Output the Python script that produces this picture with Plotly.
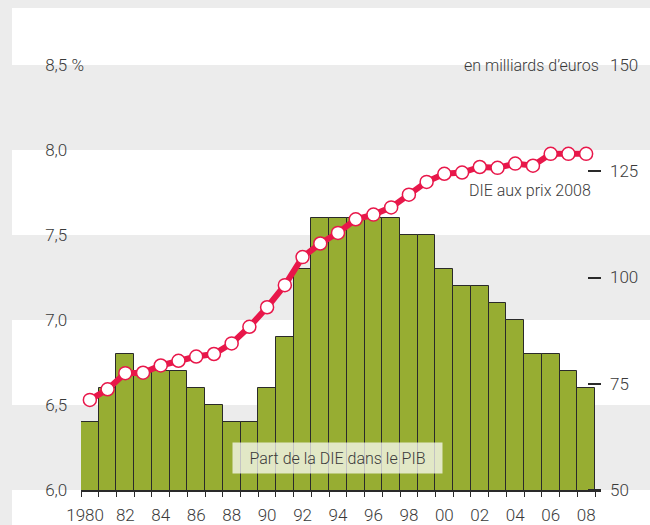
import plotly.graph_objects as go

# Dépense intérieure d'éducation (DIE) 1980-2008
years = list(range(1980, 2009))
part_pib = [6.4, 6.6, 6.8, 6.7, 6.7, 6.7, 6.6, 6.5, 6.4, 6.4,
            6.6, 6.9, 7.3, 7.6, 7.6, 7.6, 7.6, 7.6, 7.5, 7.5,
            7.3, 7.2, 7.2, 7.1, 7.0, 6.8, 6.8, 6.7, 6.6]
die_prix_2008 = [71.2, 73.7, 77.5, 77.6, 79.3, 80.4, 81.4, 82.0, 84.5, 88.4,
                 93.0, 98.2, 104.8, 108.0, 110.5, 113.7, 114.8, 116.5, 119.5, 122.5,
                 124.4, 124.7, 126.0, 125.8, 126.8, 126.3, 129.1, 129.1, 129.1]

x_tickvals = list(range(1980, 2009, 2))
x_ticktext = ["1980\u2007", "82", "84", "86", "88", "90", "92", "94", "96",
              "98", "00", "02", "04", "06", "08"]
y_tickvals = [6.0, 6.5, 7.0, 7.5, 8.0, 8.5]
# invisible suffix keeps all left labels the same width (left-aligned look)
pad = "<span style='color:rgba(0,0,0,0)'>\u00a0%</span>"
y_ticktext = ["6,0" + pad, "6,5" + pad, "7,0" + pad, "7,5" + pad, "8,0" + pad, "8,5\u00a0%"]
y2_tickvals = [50, 75, 100, 125, 150]
y2_ticktext = ["50", "75", "100", "125", "150"]
bands = [(6.0, 6.5), (7.0, 7.5), (8.0, 8.5)]

W, H = 650, 525
FONT = "Roboto, Liberation Sans, sans-serif"
TXT = "#3a3a3a"
GREY = "#ececec"
GREEN = "#97ad32"
RED = "#e8174a"


def px(x):
    return x / W


def py(y):
    return 1 - y / H


XDOM = [px(81), px(601)]
YDOM = [py(490), py(65)]
YRANGE = [6.0, 8.5]
bar_px = (595 - 81) / 29
XRANGE = [1979.5, 1979.5 + (601 - 81) / bar_px]


def ypaper(v):
    return YDOM[0] + (v - YRANGE[0]) / (YRANGE[1] - YRANGE[0]) * (YDOM[1] - YDOM[0])


fig = go.Figure()

fig.add_trace(go.Bar(
    x=years, y=part_pib, width=1,
    marker=dict(color=GREEN, line=dict(color="#2a2a2a", width=1)),
    name="Part de la DIE dans le PIB",
))

fig.add_trace(go.Scatter(
    x=years, y=die_prix_2008, yaxis="y2", mode="lines+markers",
    line=dict(color=RED, width=6),
    marker=dict(size=13, color="white", line=dict(color=RED, width=1.5)),
    name="DIE aux prix 2008",
))

# background: grey frame, white panel, grey bands
shapes = [dict(type="rect", xref="paper", yref="paper", x0=px(12), x1=1, y0=0, y1=py(8),
               fillcolor="white", line_width=0, layer="below")]
for lo, hi in bands:
    shapes.append(dict(type="rect", xref="paper", yref="paper", x0=px(12), x1=1,
                       y0=ypaper(lo), y1=ypaper(hi), fillcolor=GREY, line_width=0, layer="below"))

annotations = [
    dict(text="Part de la DIE dans le PIB", xref="paper", yref="paper",
         x=px(337.5), y=py(458), xanchor="center", yanchor="middle", showarrow=False,
         font=dict(size=16, color=TXT, family=FONT, weight=300),
         bgcolor="rgba(255,255,255,0.72)", width=205, height=26, borderpad=2),
    dict(text="DIE aux prix 2008", xref="paper", yref="paper",
         x=px(593), y=py(190), xanchor="right", yanchor="middle", showarrow=False,
         font=dict(size=16, color=TXT, family=FONT, weight=300)),
    dict(text="en milliards d\u2019euros", xref="paper", yref="paper",
         x=px(601), y=py(66), xanchor="right", yanchor="middle", showarrow=False,
         font=dict(size=16, color=TXT, family=FONT, weight=300)),
]

fig.update_layout(
    width=W, height=H,
    margin=dict(l=0, r=0, t=0, b=0),
    paper_bgcolor=GREY, plot_bgcolor="rgba(0,0,0,0)",
    showlegend=False, bargap=0,
    font=dict(family=FONT, size=16, color=TXT, weight=300),
    shapes=shapes, annotations=annotations,
    xaxis=dict(domain=XDOM, range=XRANGE, showgrid=False, zeroline=False,
               showline=True, linecolor="#2a2a2a", linewidth=1.5,
               tickmode="array", tickvals=x_tickvals, ticktext=x_ticktext,
               ticks="", tickangle=0, ticklabelstandoff=9,
               tickfont=dict(size=17),
               minor=dict(tickmode="array", tickvals=[y - 0.5 for y in years] + [2008.5],
                          ticks="outside", ticklen=5, tickcolor="#2a2a2a", tickwidth=1),
               automargin=False),
    yaxis=dict(domain=YDOM, range=YRANGE, showgrid=False, zeroline=False, showline=False,
               anchor="free", position=px(84), side="left",
               tickmode="array", tickvals=y_tickvals, ticktext=y_ticktext, ticks="",
               ticklabelstandoff=0, tickfont=dict(size=17), automargin=False),
    yaxis2=dict(overlaying="y", side="right", anchor="x", range=[50, 150],
                showgrid=False, zeroline=False, showline=False,
                tickmode="array", tickvals=y2_tickvals, ticktext=y2_ticktext, ticks="",
                ticklabelstandoff=8, tickfont=dict(size=17),
                minor=dict(tickmode="array", tickvals=[50, 75, 100, 125], ticks="inside",
                           ticklen=13, tickcolor="#2a2a2a", tickwidth=1.5),
                automargin=False),
)

fig.write_html("out.html", config={"displayModeBar": False},
               post_script="document.body.style.margin='0';")
